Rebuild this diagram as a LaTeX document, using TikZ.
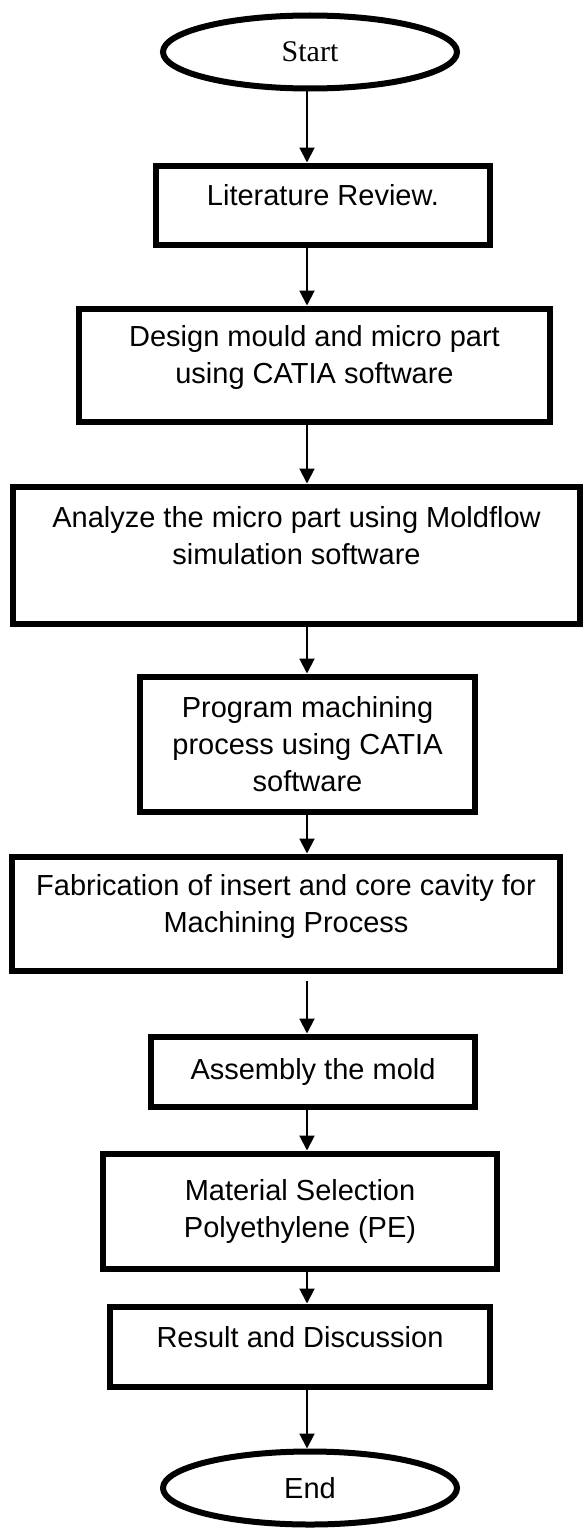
\documentclass[tikz,border=0pt]{standalone}
\usepackage{fontspec}
\setmainfont{Liberation Sans}
\newfontfamily\serifface{Liberation Serif}
\usetikzlibrary{positioning, arrows.meta, shapes.geometric}

% extra depth under the last line, lifts the text in its box
\newcommand{\lift}[1]{\rule[-#1]{0pt}{#1}}

\begin{document}
\begin{tikzpicture}[
    x=1pt, y=1pt,
    box/.style={rectangle, draw=black, line width=6pt, align=center, inner sep=0pt, outer sep=0pt, font=\fontsize{29}{37}\selectfont},
    term/.style={ellipse, draw=black, line width=6pt, minimum width=294pt, minimum height=73pt, inner sep=0pt, outer sep=0pt, font=\fontsize{29}{37}\selectfont},
    arrow/.style={-{Triangle[width=15pt,length=15pt]}, line width=2pt, shorten >=3pt}
  ]
  \useasboundingbox (0,0) rectangle (587,-1528);
  \coordinate (spine) at (307,0);

  \node[term] (start) at (310,-52) {\fontsize{30}{36}\serifface Start};
  \node[box, minimum width=334pt, minimum height=79pt, below=77pt of start, xshift=13pt] (review) {Literature Review.\lift{20pt}};
  \node[box, minimum width=471pt, minimum height=113pt, below=64pt of review, xshift=-8.5pt] (design) {Design mould and micro part\\using CATIA software\lift{22pt}};
  \node[box, minimum width=567pt, minimum height=137pt, below=65pt of design, xshift=-18pt] (analyze) {Analyze the micro part using Moldflow\\simulation software\lift{40pt}};
  \node[box, minimum width=335pt, minimum height=135pt, below=53pt of analyze, xshift=11pt] (program) {Program machining\\process using CATIA\\software};
  \node[box, minimum width=548pt, minimum height=114pt, below=45pt of program, xshift=-21.5pt] (fabricate) {Fabrication of insert and core cavity for\\Machining Process\lift{20pt}};
  \node[box, minimum width=324pt, minimum height=70pt, below=66pt of fabricate, xshift=27pt] (assembly) {Assembly the mold};
  \node[box, minimum width=394pt, minimum height=115pt, below=47pt of assembly, xshift=-13pt] (material) {Material Selection\\Polyethylene (PE)};
  \node[box, minimum width=380pt, minimum height=80pt, below=38pt of material] (result) {Result and Discussion\lift{20pt}};
  \node[term, below=65pt of result, xshift=10pt] (finish) {End};

  \draw[arrow] (start.south -| spine) -- (review.north -| spine);
  \draw[arrow] (review.south -| spine) -- (design.north -| spine);
  \draw[arrow] (design.south -| spine) -- (analyze.north -| spine);
  \draw[arrow] (analyze.south -| spine) -- (program.north -| spine);
  \draw[arrow] (program.south -| spine) -- (fabricate.north -| spine);
  \draw[arrow, shorten <=10pt] (fabricate.south -| spine) -- (assembly.north -| spine);
  \draw[arrow] (assembly.south -| spine) -- (material.north -| spine);
  \draw[arrow] (material.south -| spine) -- (result.north -| spine);
  \draw[arrow] (result.south -| spine) -- (finish.north -| spine);
\end{tikzpicture}
\end{document}
